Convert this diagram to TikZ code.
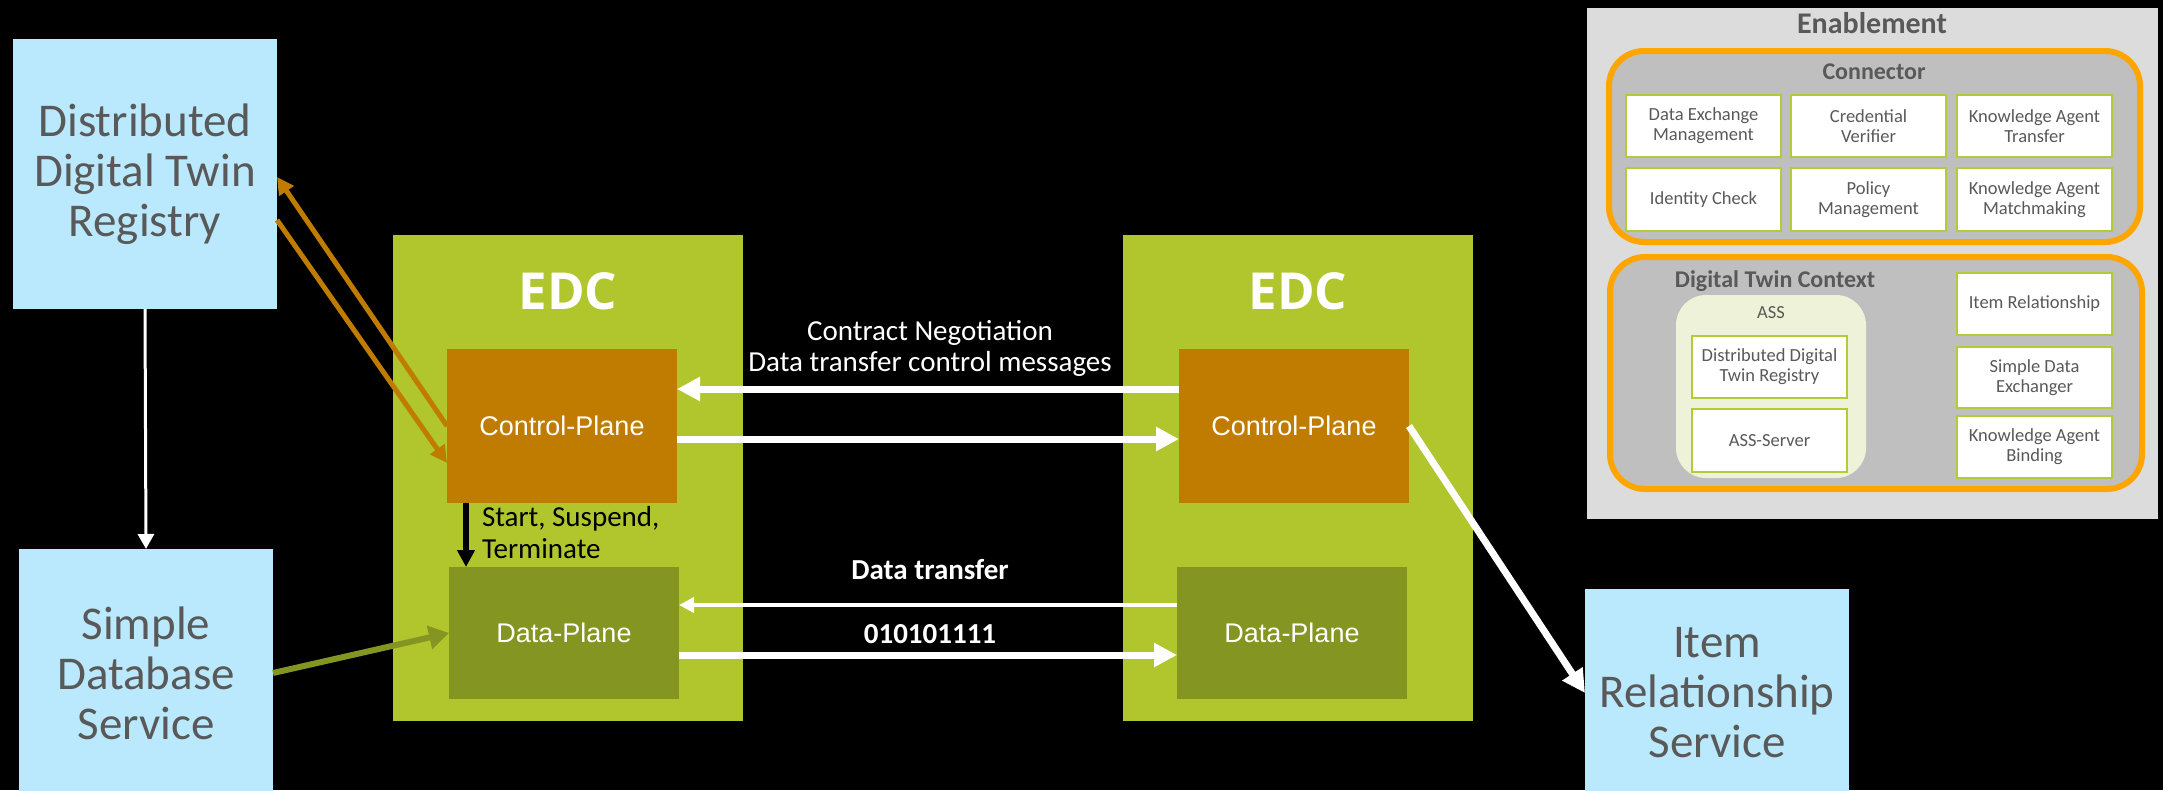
\documentclass[tikz,border=0pt]{standalone}
\usepackage{fontspec}
\setmainfont{Carlito}
\newfontfamily\arialf{Liberation Sans}
\newfontfamily\edcf{Open Sans}
\usetikzlibrary{arrows.meta}
\definecolor{lblue}{HTML}{BAE8FC}
\definecolor{edcg}{HTML}{B1C52C}
\definecolor{cpo}{HTML}{BF7C00}
\definecolor{dpo}{HTML}{849521}
\definecolor{tgray}{HTML}{595959}
\definecolor{enabg}{HTML}{DCDCDC}
\definecolor{pang}{HTML}{BFBFBF}
\definecolor{porange}{HTML}{FFA500}
\definecolor{bgreen}{HTML}{B2CB3A}
\definecolor{assbg}{HTML}{EDF2D8}
\begin{document}
\begin{tikzpicture}[x=1pt,y=-1pt,
  every node/.style={inner sep=0pt, outer sep=0pt},
  svc/.style={fill=lblue, align=center, text=tgray, font=\fontsize{47}{50}\selectfont, anchor=north west},
  edcbox/.style={fill=edcg, anchor=north west, minimum width=350pt, minimum height=486pt},
  edclabel/.style={font=\edcf\bfseries\fontsize{51}{51}\selectfont, text=white, anchor=base},
  cpbox/.style={fill=cpo, text=white, font=\arialf\fontsize{27}{30}\selectfont, anchor=north west, minimum width=230pt, minimum height=154pt},
  dpbox/.style={fill=dpo, text=white, font=\arialf\fontsize{27}{30}\selectfont, anchor=north west, minimum width=230pt, minimum height=132pt},
  msg/.style={text=white, font=\fontsize{29}{31}\selectfont, align=center, anchor=base},
  msgb/.style={text=white, font=\bfseries\fontsize{29}{31}\selectfont, anchor=base},
  sbox/.style={draw=bgreen, line width=2pt, fill=white, text=tgray, font=\fontsize{18.5}{20}\selectfont, align=center, anchor=north west, minimum width=155pt, minimum height=62pt},
  panel/.style={draw=porange, line width=6pt, fill=pang, rounded corners=35pt, anchor=north west},
  ptitle/.style={text=tgray, font=\bfseries\fontsize{24}{24}\selectfont, anchor=base},
  warr/.style={draw=white, line width=7pt, -{Triangle[length=23pt,width=23pt]}},
  wthin/.style={draw=white, line width=4pt, -{Triangle[length=15pt,width=15pt]}},
  vwarr/.style={draw=white, line width=3pt, -{Triangle[length=15pt,width=16pt]}},
  oarr/.style={draw=cpo, line width=5pt, -{Triangle[length=17pt,width=17pt]}},
  garr/.style={draw=dpo, line width=6pt, -{Triangle[length=20pt,width=23pt]}},
  barr/.style={draw=black, line width=6pt, -{Triangle[length=17pt,width=17pt]}}
]
\fill[black] (0,0) rectangle (2163,790);
\useasboundingbox (0,0) rectangle (2163,790);
\clip (0,0) rectangle (2163,790);

% services
\node[svc, minimum width=264pt, minimum height=270pt] (ddtr) at (13,39) {Distributed\\Digital Twin\\Registry};
\node[svc, minimum width=254pt, minimum height=248pt] (sds) at (19,549) {Simple\\Database\\Service};
\node[svc, minimum width=264pt, minimum height=208pt] (irs) at (1585,589) {Item\\Relationship\\Service};

% EDC left
\node[edcbox] (edcL) at (393,235) {};
\node[edclabel] (edcLt) at (568,309) {EDC};
\node[cpbox] (cpL) at (447,349) {Control-Plane};
\node[dpbox] (dpL) at (449,567) {Data-Plane};

% EDC right
\node[edcbox] (edcR) at (1123,235) {};
\node[edclabel] (edcRt) at (1298,309) {EDC};
\node[cpbox] (cpR) at (1179,349) {Control-Plane};
\node[dpbox] (dpR) at (1177,567) {Data-Plane};

% messages
\node[msg] (cn) at (930,371) {Contract Negotiation\\Data transfer control messages};
\node[msgb] (dt) at (930,579) {Data transfer};
\node[msgb] (bits) at (930,643) {010101111};
\node[text=black, font=\fontsize{29}{32}\selectfont, align=left, anchor=base west] (ssl) at (482,558) {Start, Suspend,\\Terminate};

% arrows
\draw[warr] ([yshift=37pt]cpR.west) -- ([yshift=37pt]cpL.east);
\draw[warr] ([yshift=-13pt]cpL.east) -- ([yshift=-13pt]cpR.west);
\draw[wthin] ([yshift=28pt]dpR.west) -- ([yshift=28pt]dpL.east);
\draw[warr] ([yshift=-22pt]dpL.east) -- ([yshift=-22pt]dpR.west);
\draw[oarr] (cpL.west) -- ([yshift=-3pt]ddtr.east);
\draw[oarr] ([yshift=-46pt]ddtr.east) -- ([yshift=-37pt]cpL.west);
\draw[vwarr] (ddtr.south) -- (sds.north);
\draw[garr] (sds.east) -- (dpL.west);
\draw[barr] ([xshift=19pt]cpL.south west) -- ([xshift=17pt]dpL.north west);
\draw[warr] (cpR.east) -- (irs.west);

% Enablement panel
\node[fill=enabg, anchor=north west, minimum width=571pt, minimum height=511pt] (enab) at (1587,8) {};
\node[text=tgray, font=\bfseries\fontsize{30}{30}\selectfont, anchor=base] (enabt) at (1872,33) {Enablement};

\node[panel, minimum width=531pt, minimum height=191pt] (conn) at (1609,51) {};
\node[ptitle] (connt) at (1874,79) {Connector};
\node[sbox] (c1) at (1626,95) {Data Exchange\\Management};
\node[sbox] (c2) at (1791,95) {Credential\\Verifier};
\node[sbox] (c3) at (1957,95) {Knowledge Agent\\Transfer};
\node[sbox, minimum height=63pt] (c4) at (1626,168) {Identity Check};
\node[sbox, minimum height=63pt] (c5) at (1791,168) {Policy\\Management};
\node[sbox, minimum height=63pt] (c6) at (1957,168) {Knowledge Agent\\Matchmaking};

\node[panel, minimum width=532pt, minimum height=232pt] (dtc) at (1610,257) {};
\node[ptitle] (dtct) at (1775,287) {Digital Twin Context};
\node[fill=assbg, rounded corners=30pt, anchor=north west, minimum width=190pt, minimum height=183pt] (ass) at (1676,295) {};
\node[text=tgray, font=\fontsize{18.5}{20}\selectfont, anchor=base] (asst) at (1771,318) {ASS};
\node[sbox] (a1) at (1692,336) {Distributed Digital\\Twin Registry};
\node[sbox, minimum height=63pt] (a2) at (1692,409) {ASS-Server};
\node[sbox] (r1) at (1957,273) {Item Relationship};
\node[sbox, minimum height=61pt] (r2) at (1957,347) {Simple Data\\Exchanger};
\node[sbox] (r3) at (1957,416) {Knowledge Agent\\Binding};
\end{tikzpicture}
\end{document}
